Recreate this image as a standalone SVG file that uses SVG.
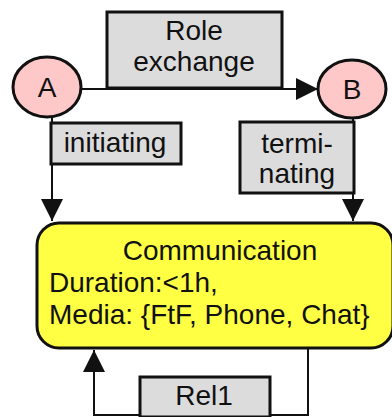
<svg xmlns="http://www.w3.org/2000/svg" width="392" height="417" viewBox="0 0 392 417">
<style>
.box{fill:#dcdcdc;stroke:#111;stroke-width:3}
.st{fill:#ffc8c8;stroke:#111;stroke-width:3}
.comm{fill:#ffff44;stroke:#111;stroke-width:3}
.conn{fill:none;stroke:#111;stroke-width:2}
text{font-family:"Liberation Sans",Arial,sans-serif;font-size:28px;fill:#111}
.c{text-anchor:middle}
</style>
<defs>
<marker id="ah" markerUnits="userSpaceOnUse" markerWidth="22" markerHeight="22" viewBox="0 0 20 20" refX="20" refY="10" orient="auto">
<path d="M0,0 L20,10 L0,20 Z" fill="#111"/>
</marker>
</defs>
<rect width="392" height="417" fill="#fff"/>
<g id="connectors">
<path class="conn" d="M82,89 H318" marker-end="url(#ah)"/>
<path class="conn" d="M52,117 V221" marker-end="url(#ah)"/>
<path class="conn" d="M353,118 V221" marker-end="url(#ah)"/>
<path class="conn" d="M308,348 V415 H94 V350" marker-end="url(#ah)"/>
</g>
<g id="role-exchange">
<rect class="box" x="107" y="12" width="175" height="76"/>
<text class="c" x="194" y="40">Role</text>
<text class="c" x="194" y="71">exchange</text>
</g>
<g id="A">
<ellipse class="st" cx="47" cy="87" rx="34" ry="30"/>
<text class="c" x="47" y="97">A</text>
</g>
<g id="B">
<ellipse class="st" cx="352" cy="89" rx="34" ry="29"/>
<text class="c" x="352" y="99">B</text>
</g>
<g id="initiating">
<rect class="box" x="51" y="123" width="130" height="41"/>
<text class="c" x="115" y="152">initiating</text>
</g>
<g id="terminating">
<rect class="box" x="240" y="122" width="114" height="71"/>
<text class="c" x="297" y="153">termi-</text>
<text class="c" x="297" y="183">nating</text>
</g>
<g id="communication">
<rect class="comm" x="37" y="223" width="356" height="125" rx="22" ry="22"/>
<text class="c" x="220" y="260">Communication</text>
<text x="49" y="292">Duration:&lt;1h,</text>
<text x="49" y="324">Media: {FtF, Phone, Chat}</text>
</g>
<g id="rel1">
<rect class="box" x="140" y="377" width="130" height="40"/>
<text class="c" x="204" y="405">Rel1</text>
</g>
</svg>
